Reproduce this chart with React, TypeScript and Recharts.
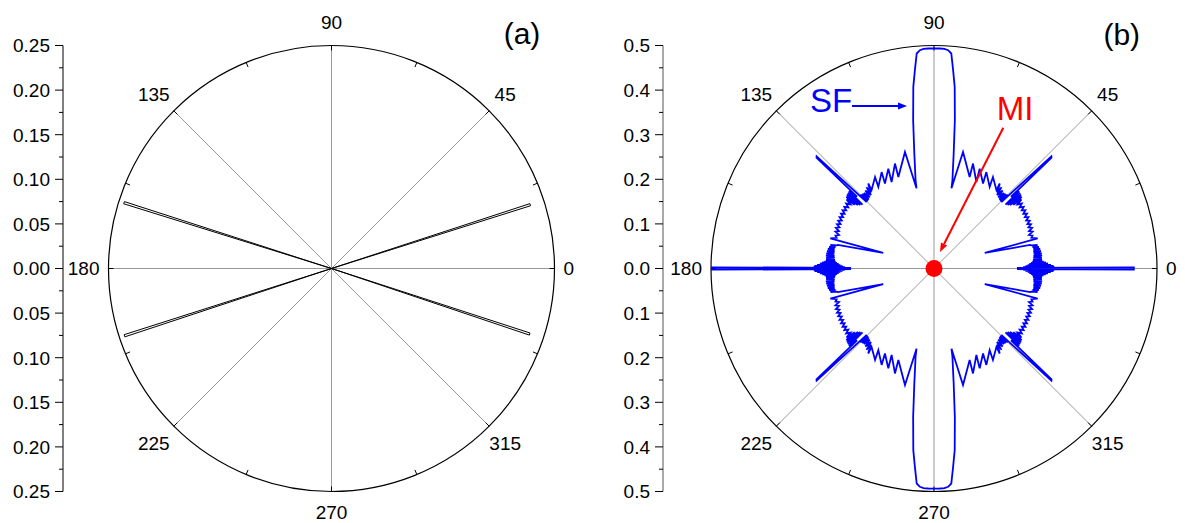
import { ReferenceDot, ReferenceLine, Scatter, ScatterChart, XAxis, YAxis } from 'recharts';

// ---- shared polar frame ----
const ANGLE_LABELS = [0, 45, 90, 135, 180, 225, 270, 315];
const SPOKE_ANGLES = [0, 45, 90, 135];
const RIM_TICK_ANGLES = [0, 22.5, 45, 67.5, 90, 112.5, 135, 157.5, 180, 202.5, 225, 247.5, 270, 292.5, 315, 337.5];

// ---- left axis ticks ----
const TICKS_A = [-0.25, -0.225, -0.2, -0.175, -0.15, -0.125, -0.1, -0.075, -0.05, -0.025, 0,
  0.025, 0.05, 0.075, 0.1, 0.125, 0.15, 0.175, 0.2, 0.225, 0.25];
const TICKS_B = [-0.5, -0.45, -0.4, -0.35, -0.3, -0.25, -0.2, -0.15, -0.1, -0.05, 0,
  0.05, 0.1, 0.15, 0.2, 0.25, 0.3, 0.35, 0.4, 0.45, 0.5];

// ---- panel (a): four narrow lobes ----
const LOBE_ANGLES_A = [17.8, 162.4, 198.0, 341.7];
const LOBE_LENGTHS_A = [0.234, 0.244, 0.244, 0.234];

// ---- panel (b): SF pattern, first quadrant [angle deg, r] ----
const SF_SPIKE_0 = 0.448;
const SF_SPIKE_180 = 0.498;
const SF_QUADRANT: [number, number][] = [
  [0.45, 0.186],
  [0.6, 0.27], [0.9, 0.2], [1.2, 0.268], [1.5, 0.205], [1.8, 0.262], [2.1, 0.21], [2.4, 0.256],
  [2.7, 0.214], [3.0, 0.251], [3.3, 0.218], [3.6, 0.246], [4.0, 0.221], [4.5, 0.243],
  [5.0, 0.223], [5.6, 0.243], [6.2, 0.224], [6.8, 0.244], [7.4, 0.225], [8.0, 0.244],
  [8.6, 0.226], [9.2, 0.243], [9.8, 0.226], [10.4, 0.242], [11.0, 0.227], [11.6, 0.24],
  [12.2, 0.226], [12.8, 0.238], [13.4, 0.224],
  [13.8, 0.222], [17.0, 0.119], [16.2, 0.242],
  [17.5, 0.229], [18.5, 0.233], [19.5, 0.226], [20.5, 0.236], [21.5, 0.229], [22.5, 0.238],
  [23.5, 0.231], [24.5, 0.239], [25.5, 0.232], [26.5, 0.24], [27.5, 0.233], [28.5, 0.241],
  [29.5, 0.234], [30.5, 0.242], [31.5, 0.235], [32.5, 0.243], [33.5, 0.236], [34.5, 0.244],
  [35.5, 0.236], [36.5, 0.245], [37.5, 0.236],
  [38.3, 0.25], [38.8, 0.228], [39.3, 0.254], [39.8, 0.222], [40.3, 0.256], [40.8, 0.218],
  [41.3, 0.257], [41.8, 0.215], [42.3, 0.258], [43.0, 0.236],
  [43.3, 0.362], [43.7, 0.364], [44.6, 0.212],
  [45.1, 0.234], [45.6, 0.212], [46.1, 0.232], [46.6, 0.213], [47.2, 0.231], [47.9, 0.215],
  [48.7, 0.233], [49.4, 0.217], [50.3, 0.237], [50.0, 0.222],
  [52.3, 0.241], [51.4, 0.2245], [57.2, 0.244], [55.7, 0.2215], [61.5, 0.246], [60.0, 0.22],
  [65.4, 0.246], [63.9, 0.216], [69.6, 0.251], [68.7, 0.22], [76.0, 0.269], [77.7, 0.184],
  [78.2, 0.202], [80.3, 0.262], [82.0, 0.336], [83.5, 0.41], [84.5, 0.447], [85.4, 0.4836],
  [86.3, 0.4905], [87.3, 0.4928], [88.5, 0.4934], [90, 0.4935],
];

// annotations (data coords of panel b)
const SF_ARROW = [{ x: -0.1839, y: 0.3643 }, { x: -0.0605, y: 0.3643 }];
const MI_ARROW = [{ x: 0.1554, y: 0.3157 }, { x: 0.0134, y: 0.037 }];

const LABEL_OFFSET: Record<number, { dx: number; dy: number; anchor: 'start' | 'middle' | 'end' }> = {
  0: { dx: 9, dy: 6.5, anchor: 'start' },
  45: { dx: 16, dy: -10, anchor: 'middle' },
  90: { dx: 0, dy: -17, anchor: 'middle' },
  135: { dx: -20, dy: -10, anchor: 'middle' },
  180: { dx: -9, dy: 6.5, anchor: 'end' },
  225: { dx: -20, dy: 24, anchor: 'middle' },
  270: { dx: 0, dy: 27, anchor: 'middle' },
  315: { dx: 16, dy: 24, anchor: 'middle' },
};

const rad = (a: number) => (a * Math.PI) / 180;
const polar = (a: number, r: number) => ({ x: r * Math.cos(rad(a)), y: r * Math.sin(rad(a)) });

const lobesA = LOBE_ANGLES_A.flatMap((a, i) => [
  { x: 0, y: 0 },
  polar(a - 0.3, LOBE_LENGTHS_A[i]),
  polar(a + 0.3, LOBE_LENGTHS_A[i]),
  { x: 0, y: 0 },
]);

const sfPolar: [number, number][] = [
  [0, SF_SPIKE_0], [0.3, SF_SPIKE_0],
  ...SF_QUADRANT,
  ...[...SF_QUADRANT].reverse().map(([a, r]) => [180 - a, r] as [number, number]),
  [179.7, SF_SPIKE_180], [180, SF_SPIKE_180], [180.3, SF_SPIKE_180],
  ...SF_QUADRANT.map(([a, r]) => [180 + a, r] as [number, number]),
  ...[...SF_QUADRANT].reverse().map(([a, r]) => [360 - a, r] as [number, number]),
  [359.7, SF_SPIKE_0], [360, SF_SPIKE_0],
];
const sfData = sfPolar.map(([a, r]) => polar(a, r));

const FONT = 'Arial, "Liberation Sans", sans-serif';

const NoDot = () => <g />;

const Ring = (props: any) => {
  const pts = props.points || [];
  if (pts.length < 2) return <g />;
  const [c, e] = pts;
  return <circle cx={c.x} cy={c.y} r={Math.hypot(e.x - c.x, e.y - c.y)} fill="none" stroke="#000" strokeWidth={1.2} />;
};

const AngleLabel = (props: any) => {
  const { cx, cy, payload } = props;
  const o = LABEL_OFFSET[payload.label];
  return (
    <text x={cx + o.dx} y={cy + o.dy} textAnchor={o.anchor} fontSize={19} fill="#000" fontFamily={FONT}>
      {payload.label}
    </text>
  );
};

const textAt = (txt: string, size: number, color: string, anchor: 'start' | 'middle' = 'start') => (props: any) => (
  <text x={props.cx} y={props.cy} fontSize={size} fill={color} textAnchor={anchor} fontFamily={FONT}>{txt}</text>
);

const arrowLine = (color: string, w: number, headLen: number, headW: number) => (props: any) => {
  const pts = props.points || [];
  if (pts.length < 2) return <g />;
  const [a, b] = pts;
  const ang = Math.atan2(b.y - a.y, b.x - a.x);
  const cs = Math.cos(ang);
  const sn = Math.sin(ang);
  const bx = b.x - headLen * cs;
  const by = b.y - headLen * sn;
  return (
    <g>
      <line x1={a.x} y1={a.y} x2={bx} y2={by} stroke={color} strokeWidth={w} />
      <polygon
        points={`${b.x},${b.y} ${bx - headW * sn},${by + headW * cs} ${bx + headW * sn},${by - headW * cs}`}
        fill={color}
      />
    </g>
  );
};

const makeTick = (minorStep: number, digits: number) => (props: any) => {
  const { x, y, payload } = props;
  const major = Math.abs(Math.round(payload.value / minorStep)) % 2 === 0;
  return (
    <g>
      <line x1={x - (major ? 8 : 4)} x2={x} y1={y} y2={y} stroke="#000" />
      {major && (
        <text x={x - 13} y={y} dy="0.36em" textAnchor="end" fontSize={19} fill="#000" fontFamily={FONT}>
          {Math.abs(payload.value).toFixed(digits)}
        </text>
      )}
    </g>
  );
};

function frame(R: number, tickLen: number) {
  const els: any[] = [];
  SPOKE_ANGLES.forEach((a) => {
    const p = polar(a, R);
    els.push(
      <ReferenceLine key={'s' + a} segment={[{ x: -p.x, y: -p.y }, { x: p.x, y: p.y }]}
        stroke="#999" strokeWidth={1} ifOverflow="visible" />
    );
  });
  RIM_TICK_ANGLES.forEach((a) => {
    els.push(
      <ReferenceLine key={'t' + a} segment={[polar(a, R), polar(a, R - tickLen)]}
        stroke="#000" strokeWidth={1} ifOverflow="visible" />
    );
  });
  els.push(
    <Scatter key="ring" data={[{ x: 0, y: 0 }, { x: R, y: 0 }]} shape={NoDot} line={Ring} isAnimationActive={false} />
  );
  els.push(
    <Scatter key="labels" data={ANGLE_LABELS.map((a) => ({ ...polar(a, R), label: a }))}
      shape={AngleLabel} isAnimationActive={false} />
  );
  return els;
}

function PanelA() {
  return (
    <ScatterChart width={593} height={523} margin={{ top: 45.5, right: 13, bottom: 31.5, left: 5 }}>
      <XAxis type="number" dataKey="x" domain={[-0.30101, 0.27859]} hide />
      <YAxis type="number" dataKey="y" domain={[-0.25, 0.25]} ticks={TICKS_A} interval={0} width={58}
        tickSize={0} tickMargin={0} tickLine={false} axisLine={{ stroke: '#000' }} tick={makeTick(0.025, 2)} />
      {frame(0.25, 0.0056)}
      <Scatter data={lobesA} shape={NoDot} line={{ stroke: '#000', strokeWidth: 1 }} lineJointType="linear"
        isAnimationActive={false} />
      <ReferenceDot x={0.2136} y={0.2512} ifOverflow="visible" shape={textAt('(a)', 30, '#000', 'middle')} />
    </ScatterChart>
  );
}

function PanelB() {
  return (
    <ScatterChart width={592} height={523} margin={{ top: 45.5, right: 10, bottom: 31.5, left: 5 }}>
      <XAxis type="number" dataKey="x" domain={[-0.60762, 0.54036]} hide />
      <YAxis type="number" dataKey="y" domain={[-0.5, 0.5]} ticks={TICKS_B} interval={0} width={65}
        tickSize={0} tickMargin={0} tickLine={false} axisLine={{ stroke: '#555' }} tick={makeTick(0.05, 1)} />
      {frame(0.5, 0.0112)}
      <Scatter data={sfData} shape={NoDot} line={{ stroke: '#0000ff', strokeWidth: 1.8 }} lineJointType="linear"
        isAnimationActive={false} />
      <Scatter data={SF_ARROW} shape={NoDot} line={arrowLine('#0000ff', 2, 9, 3.5)} isAnimationActive={false} />
      <Scatter data={MI_ARROW} shape={NoDot} line={arrowLine('#ff0000', 2, 9, 3.5)} isAnimationActive={false} />
      <ReferenceDot x={0} y={0} r={8.5} fill="#ff0000" stroke="none" ifOverflow="visible" />
      <ReferenceDot x={-0.278} y={0.3516} ifOverflow="visible" shape={textAt('SF', 33, '#0000ff')} />
      <ReferenceDot x={0.1406} y={0.333} ifOverflow="visible" shape={textAt('MI', 33, '#ff0000')} />
      <ReferenceDot x={0.421} y={0.5011} ifOverflow="visible" shape={textAt('(b)', 30, '#000', 'middle')} />
    </ScatterChart>
  );
}

export default function App() {
  return (
    <div style={{ position: 'absolute', left: 0, top: 0, width: 1185, height: 523, background: '#fff',
      display: 'flex', fontFamily: FONT }}>
      <PanelA />
      <PanelB />
    </div>
  );
}
